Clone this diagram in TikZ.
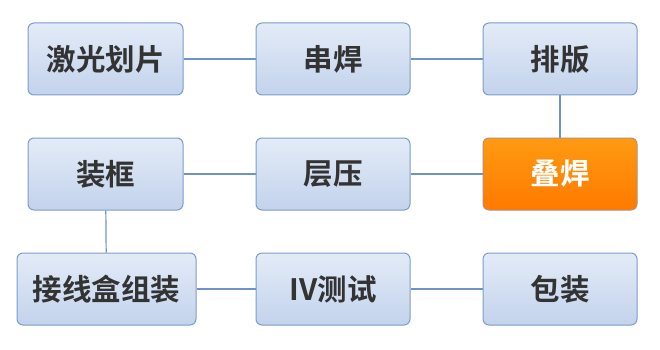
\documentclass[tikz,border=0pt]{standalone}
\usepackage{fontspec}
\newfontfamily\cjk{Noto Sans CJK SC}[BoldFont={Noto Sans CJK SC Bold}]
\usetikzlibrary{shadings}
\definecolor{txt}{HTML}{333333}
\definecolor{bord}{HTML}{7C9CCB}
\definecolor{lnk}{HTML}{6F93C9}
\definecolor{btop}{HTML}{E3EBF7}
\definecolor{bbot}{HTML}{C3D3EC}
\definecolor{otop}{HTML}{FF9A12}
\definecolor{obot}{HTML}{FF7A00}
\tikzset{
  box/.style={draw=bord, line width=1pt, rounded corners=6pt, top color=btop, bottom color=bbot,
    minimum height=72pt, inner sep=0pt, font=\cjk\bfseries\fontsize{29.5}{31}\selectfont, text=txt},
  hot/.style={box, top color=otop, bottom color=obot, draw=bord!60!orange, text=white},
  link/.style={draw=lnk, line width=1.2pt}
}
\begin{document}
\begin{tikzpicture}[x=1pt,y=-1pt]
\useasboundingbox (0,0) rectangle (660,350);
\node[box, minimum width=155pt] (a) at (105.5,59) {激光划片};
\node[box, minimum width=154pt] (b) at (333,59) {串焊};
\node[box, minimum width=154pt] (c) at (560,59) {排版};
\node[box, minimum width=155pt] (f) at (105.5,174) {装框};
\node[box, minimum width=154pt] (e) at (333,174) {层压};
\node[hot, minimum width=154pt] (d) at (560,174) {叠焊};
\node[box, minimum width=179pt] (g) at (106.5,289) {接线盒组装};
\node[box, minimum width=154pt] (h) at (333,289) {IV测试};
\node[box, minimum width=154pt] (i) at (560,289) {包装};
\draw[link] (a) -- (b);
\draw[link] (b) -- (c);
\draw[link] (c) -- (d);
\draw[link] (d) -- (e);
\draw[link] (e) -- (f);
\draw[link] (f) -- (g);
\draw[link] (g) -- (h);
\draw[link] (h) -- (i);
\end{tikzpicture}
\end{document}
